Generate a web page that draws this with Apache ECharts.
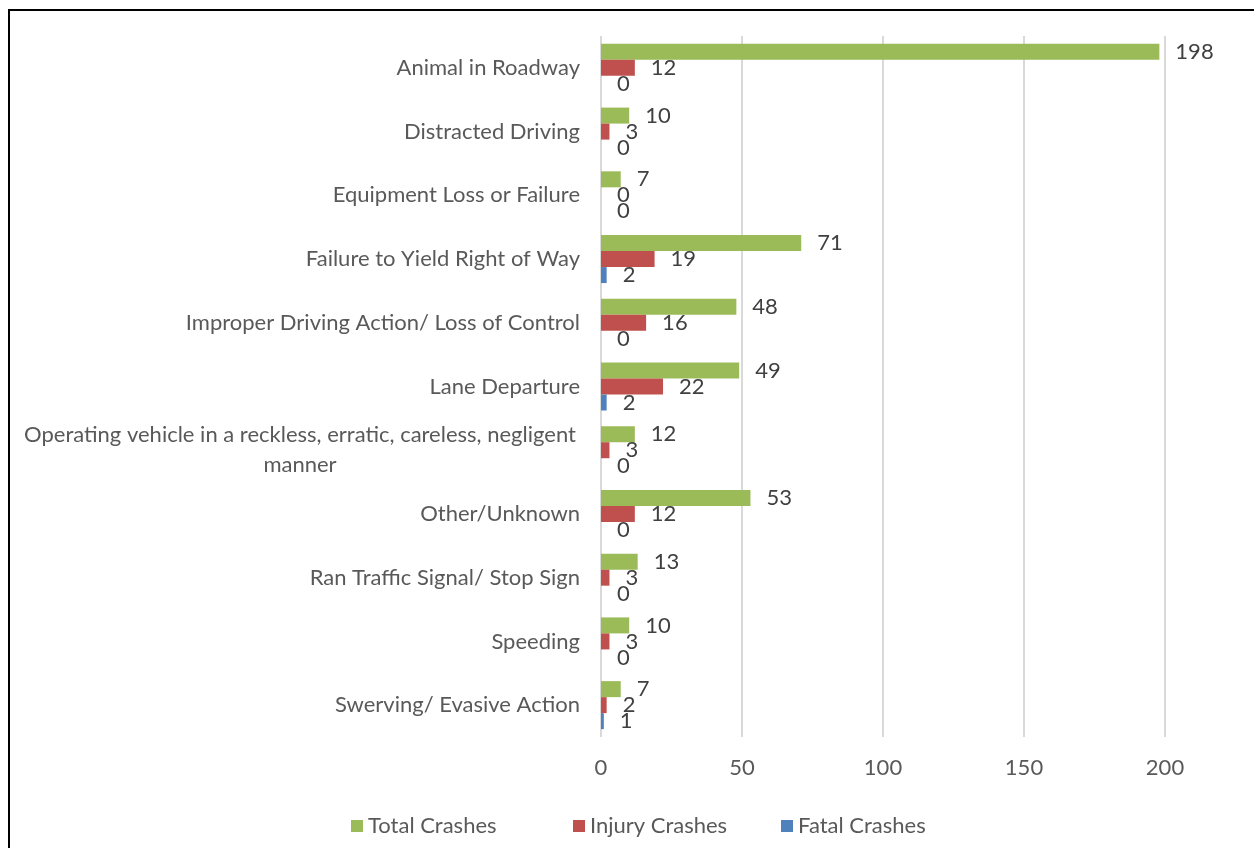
<!DOCTYPE html>
<html>
<head>
<meta charset="utf-8">
<script src="https://cdn.jsdelivr.net/npm/echarts@6/dist/echarts.min.js"></script>
<style>
  html, body { margin: 0; padding: 0; background: #fff; }
  #chart { width: 1254px; height: 848px; }
</style>
</head>
<body>
<div id="chart"></div>
<script>
const categories = [
  "Animal in Roadway",
  "Distracted Driving",
  "Equipment Loss or Failure",
  "Failure to Yield Right of Way",
  "Improper Driving Action/ Loss of Control",
  "Lane Departure",
  "Operating vehicle in a reckless, erratic, careless, negligent\nmanner",
  "Other/Unknown",
  "Ran Traffic Signal/ Stop Sign",
  "Speeding",
  "Swerving/ Evasive Action"
];
const seriesNames = ["Total Crashes", "Injury Crashes", "Fatal Crashes"];
const totalCrashes = [198, 10, 7, 71, 48, 49, 12, 53, 13, 10, 7];
const injuryCrashes = [12, 3, 0, 19, 16, 22, 3, 12, 3, 3, 2];
const fatalCrashes = [0, 0, 0, 2, 0, 2, 0, 0, 0, 0, 1];

const font = "Lato, 'Open Sans', sans-serif";
const textColor = "#595959";
const fs = 22;
const colors = ["#9bbb59", "#c0504d", "#4f81bd"];
const legendLeft = [346, 568, 776];

let chart = echarts.init(document.getElementById("chart"));

// label shared by all three series
function barLabel() {
  return {
    show: true,
    position: "right",
    distance: 16,
    color: "#404040",
    fontSize: fs,
    fontFamily: font,
  };
}

let option = {
  animation: false,
  textStyle: { fontFamily: font },
  graphic: [
    {
      type: "rect",
      shape: { x: 9, y: 10, width: 1300, height: 900 },
      style: { fill: "none", stroke: "#000", lineWidth: 2 },
    },
  ],
  // one legend per item, Excel spaces them in fixed slots
  legend: seriesNames.map((name, i) => ({
    left: legendLeft[i],
    bottom: 6,
    itemWidth: 12,
    itemHeight: 12,
    icon: "rect",
    textStyle: { color: textColor, fontSize: fs, fontFamily: font },
    data: [name],
  })),
  grid: {
    left: 601,
    right: 89,
    top: 36,
    bottom: 111,
  },
  xAxis: {
    type: "value",
    min: 0,
    max: 200,
    interval: 50,
    axisLine: { show: false },
    axisTick: { show: false },
    axisLabel: { color: textColor, fontSize: fs, margin: 20, fontFamily: font },
    splitLine: { lineStyle: { color: "#d9d9d9", width: 2 } },
  },
  yAxis: {
    type: "category",
    inverse: true,
    data: categories,
    axisLine: { show: false },
    axisTick: { show: false },
    axisLabel: {
      color: textColor,
      fontSize: fs,
      margin: 21,
      fontFamily: font,
      lineHeight: 30,
      formatter: function (v) {
        if (v.indexOf("\n") >= 0) {
          return v.split("\n").map((s) => "{c|" + s + "}").join("\n");
        }
        return v;
      },
      rich: {
        c: { width: 560, align: "center", fontSize: fs, color: textColor, fontFamily: font, lineHeight: 30 },
      },
    },
  },
  series: [
    {
      name: seriesNames[0],
      type: "bar",
      data: totalCrashes,
      barWidth: 16,
      barGap: "0%",
      itemStyle: { color: colors[0] },
      label: barLabel(),
    },
    {
      name: seriesNames[1],
      type: "bar",
      data: injuryCrashes,
      barWidth: 16,
      barGap: "0%",
      itemStyle: { color: colors[1] },
      label: barLabel(),
    },
    {
      name: seriesNames[2],
      type: "bar",
      data: fatalCrashes,
      barWidth: 16,
      barGap: "0%",
      itemStyle: { color: colors[2] },
      label: barLabel(),
    },
  ],
};
chart.setOption(option);
</script>
</body>
</html>
